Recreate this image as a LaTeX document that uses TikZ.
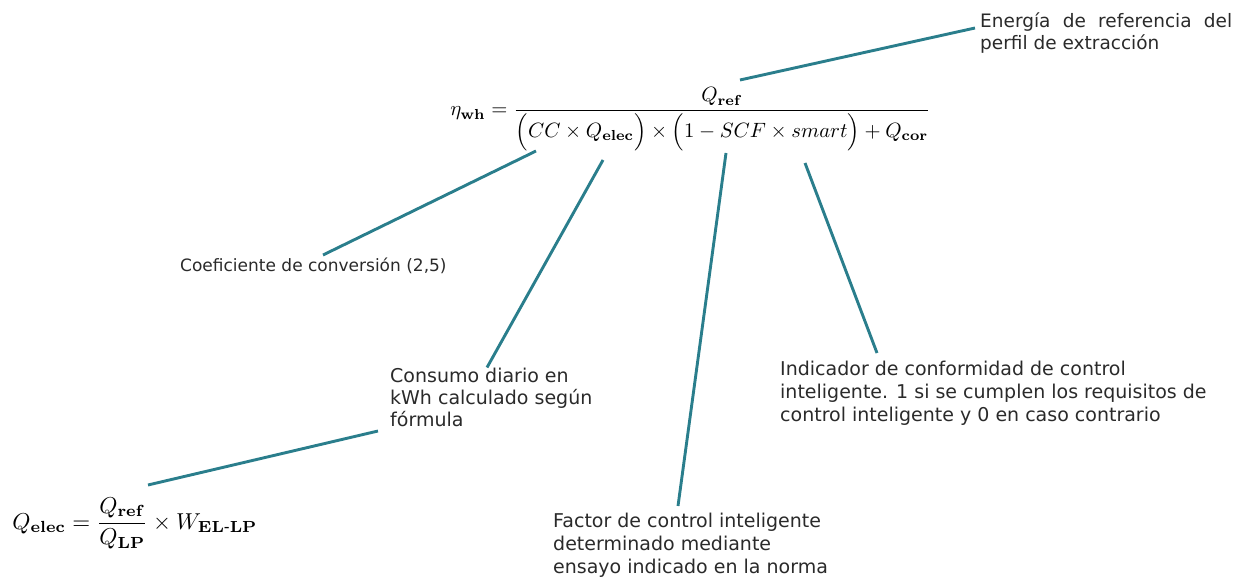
\documentclass[tikz,border=0pt]{standalone}
\usepackage{amsmath}
\usepackage[no-math]{fontspec}
\setmainfont{DejaVu Sans}
\usetikzlibrary{calc}
\definecolor{lineteal}{HTML}{2A7E8C}
\definecolor{txtgray}{HTML}{2A2A2A}
\begin{document}
\begin{tikzpicture}[x=1pt,y=-1pt,
  conn/.style={draw=lineteal, line width=2.9pt},
  lbl/.style={font=\fontsize{19}{23}\selectfont, text=txtgray, inner sep=0pt, align=left, anchor=north west},
  eqn/.style={inner sep=0pt, anchor=base west, transform shape}]
\useasboundingbox (0,0) rectangle (1246,577);

% main formula
\node[eqn, scale=2.07] (main) at (450,116) {$\eta_{\mathbf{wh}} = \dfrac{Q_{\mathbf{ref}}}{\Big(CC\times Q_{\mathbf{elec}}\Big)\times\Big(1 - SCF\times smart\Big)+Q_{\mathbf{cor}}}$};

% second formula
\node[eqn, scale=2.3] (qe) at (12,529) {$Q_{\mathbf{elec}} = \dfrac{Q_{\mathbf{ref}}}{Q_{\mathbf{LP}}}\times W_{\mathbf{EL\text{-}LP}}$};

% labels
\node[lbl, font=\fontsize{18.5}{22}\selectfont] (ener) at (980,13) {\makebox[252pt][s]{Energía de referencia del}\\perfil de extracción};
\node[lbl, font=\fontsize{17}{20}\selectfont] (coef) at (180,258) {Coeficiente de conversión (2,5)};
\node[lbl, font=\fontsize{19}{22}\selectfont] (cons) at (390,367.5) {Consumo diario en\\kWh calculado según\\fórmula};
\node[lbl] (fact) at (553,512.5) {Factor de control inteligente\\determinado mediante\\ensayo indicado en la norma};
\node[lbl] (indic) at (780,360.5) {Indicador de conformidad de control\\inteligente. 1 si se cumplen los requisitos de\\control inteligente y 0 en caso contrario};

% anchor points on the formulas
\coordinate (pqref) at (740,80);
\coordinate (pcc) at (536,151);
\coordinate (pqelec) at (603,160);
\coordinate (pscf) at (726,153);
\coordinate (psmart) at (805,163);
\coordinate (pqe) at (148,485);

% connectors
\draw[conn] (pqref) -- ($(ener.north west)+(-5,15)$);
\draw[conn] (pcc) -- ($(coef.north west)+(143,-3)$);
\draw[conn] (pqelec) -- ($(cons.north west)+(97,0)$);
\draw[conn] (pscf) -- ($(fact.north west)+(125,-6.5)$);
\draw[conn] (psmart) -- ($(indic.north west)+(97,-7.5)$);
\draw[conn] (pqe) -- ($(cons.north west)+(-12,63.5)$);
\end{tikzpicture}
\end{document}
